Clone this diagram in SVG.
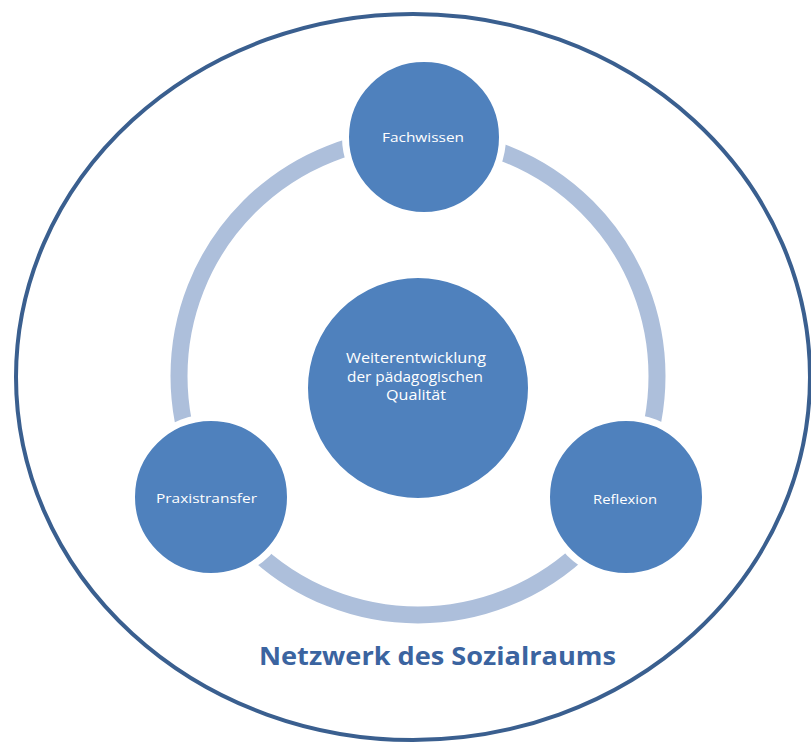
<svg xmlns="http://www.w3.org/2000/svg" width="811" height="744" viewBox="0 0 811 744">
<style>
.node{fill:#4f81bd;stroke:#ffffff;stroke-width:7}
.lbl{font-family:"Open Sans","Liberation Sans",sans-serif;fill:#ffffff;text-anchor:middle;font-size:12px}
.clbl{font-family:"Open Sans","Liberation Sans",sans-serif;fill:#ffffff;text-anchor:middle;font-size:14px}
</style>
<rect width="811" height="744" fill="#ffffff"/>
<ellipse cx="413" cy="377" rx="397" ry="363" fill="#ffffff" stroke="#3a5f8f" stroke-width="4"/>
<g id="connectors">
<circle cx="418" cy="376" r="239" fill="none" stroke="#adbfdb" stroke-width="17"/>
</g>
<g id="center">
<circle class="node" cx="418" cy="388" r="113.5"/>
<text class="clbl" x="416" y="363" textLength="140" lengthAdjust="spacingAndGlyphs">Weiterentwicklung</text>
<text class="clbl" x="415" y="382" textLength="136" lengthAdjust="spacingAndGlyphs">der pädagogischen</text>
<text class="clbl" x="416" y="400" textLength="60" lengthAdjust="spacingAndGlyphs">Qualität</text>
</g>
<g id="fachwissen">
<circle class="node" cx="424" cy="137" r="78.5"/>
<text class="lbl" x="423" y="142" textLength="82" lengthAdjust="spacingAndGlyphs">Fachwissen</text>
</g>
<g id="praxistransfer">
<circle class="node" cx="211" cy="497" r="79.5"/>
<text class="lbl" x="206.5" y="503" textLength="101" lengthAdjust="spacingAndGlyphs">Praxistransfer</text>
</g>
<g id="reflexion">
<circle class="node" cx="626" cy="497" r="79.5"/>
<text class="lbl" x="625" y="504" textLength="64" lengthAdjust="spacingAndGlyphs">Reflexion</text>
</g>
<g id="netzwerk">
<text x="437.5" y="665" font-family="'Open Sans','Liberation Sans',sans-serif" font-weight="bold" font-size="25" fill="#3b64a0" text-anchor="middle" textLength="357" lengthAdjust="spacingAndGlyphs">Netzwerk des Sozialraums</text>
</g>
</svg>
